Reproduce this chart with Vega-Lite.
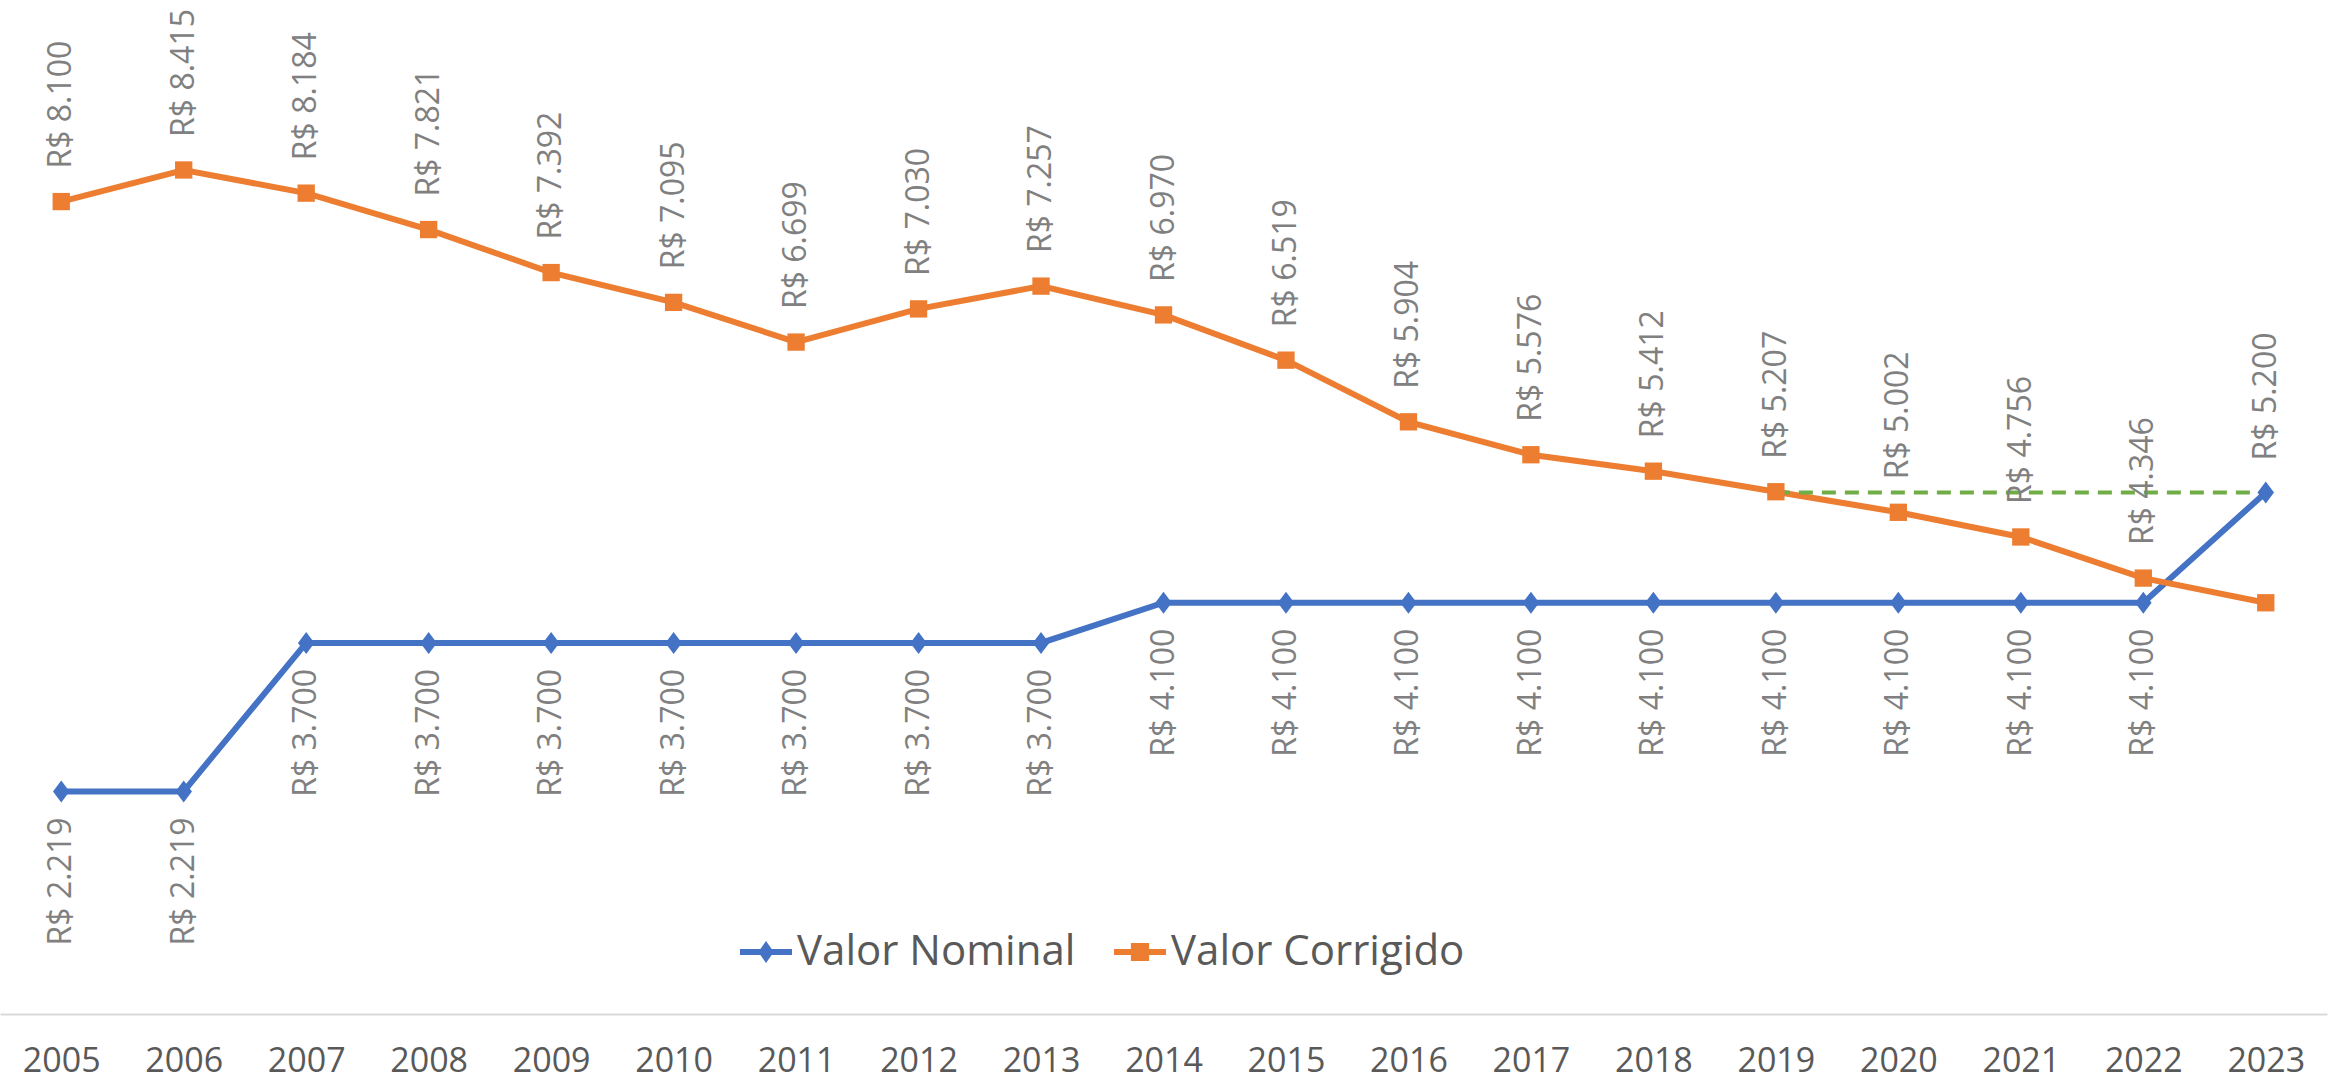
{
  "$schema": "https://vega.github.io/schema/vega-lite/v6.json",
  "width": 2327,
  "height": 1003,
  "autosize": "none",
  "padding": {"left": 0, "top": 11, "right": 9, "bottom": 67},
  "config": {
    "view": {"stroke": null},
    "font": "Open Sans",
    "locale": {"number": {"decimal": ",", "thousands": ".", "grouping": [3], "currency": ["R$ ", ""]}}
  },
  "datasets": {
    "valores": [
      {"ano": 2005, "serie": "Valor Nominal", "valor": 2219},
      {"ano": 2006, "serie": "Valor Nominal", "valor": 2219},
      {"ano": 2007, "serie": "Valor Nominal", "valor": 3700},
      {"ano": 2008, "serie": "Valor Nominal", "valor": 3700},
      {"ano": 2009, "serie": "Valor Nominal", "valor": 3700},
      {"ano": 2010, "serie": "Valor Nominal", "valor": 3700},
      {"ano": 2011, "serie": "Valor Nominal", "valor": 3700},
      {"ano": 2012, "serie": "Valor Nominal", "valor": 3700},
      {"ano": 2013, "serie": "Valor Nominal", "valor": 3700},
      {"ano": 2014, "serie": "Valor Nominal", "valor": 4100},
      {"ano": 2015, "serie": "Valor Nominal", "valor": 4100},
      {"ano": 2016, "serie": "Valor Nominal", "valor": 4100},
      {"ano": 2017, "serie": "Valor Nominal", "valor": 4100},
      {"ano": 2018, "serie": "Valor Nominal", "valor": 4100},
      {"ano": 2019, "serie": "Valor Nominal", "valor": 4100},
      {"ano": 2020, "serie": "Valor Nominal", "valor": 4100},
      {"ano": 2021, "serie": "Valor Nominal", "valor": 4100},
      {"ano": 2022, "serie": "Valor Nominal", "valor": 4100},
      {"ano": 2023, "serie": "Valor Nominal", "valor": 5200},
      {"ano": 2005, "serie": "Valor Corrigido", "valor": 8100},
      {"ano": 2006, "serie": "Valor Corrigido", "valor": 8415},
      {"ano": 2007, "serie": "Valor Corrigido", "valor": 8184},
      {"ano": 2008, "serie": "Valor Corrigido", "valor": 7821},
      {"ano": 2009, "serie": "Valor Corrigido", "valor": 7392},
      {"ano": 2010, "serie": "Valor Corrigido", "valor": 7095},
      {"ano": 2011, "serie": "Valor Corrigido", "valor": 6699},
      {"ano": 2012, "serie": "Valor Corrigido", "valor": 7030},
      {"ano": 2013, "serie": "Valor Corrigido", "valor": 7257},
      {"ano": 2014, "serie": "Valor Corrigido", "valor": 6970},
      {"ano": 2015, "serie": "Valor Corrigido", "valor": 6519},
      {"ano": 2016, "serie": "Valor Corrigido", "valor": 5904},
      {"ano": 2017, "serie": "Valor Corrigido", "valor": 5576},
      {"ano": 2018, "serie": "Valor Corrigido", "valor": 5412},
      {"ano": 2019, "serie": "Valor Corrigido", "valor": 5207},
      {"ano": 2020, "serie": "Valor Corrigido", "valor": 5002},
      {"ano": 2021, "serie": "Valor Corrigido", "valor": 4756},
      {"ano": 2022, "serie": "Valor Corrigido", "valor": 4346},
      {"ano": 2023, "serie": "Valor Corrigido", "valor": 4100}
    ],
    "referencia": [
      {"ano": 2019, "valor": 5200},
      {"ano": 2023, "valor": 5200}
    ]
  },
  "data": {"name": "valores"},
  "encoding": {
    "x": {
      "field": "ano",
      "type": "ordinal",
      "scale": {"type": "point", "padding": 0.5},
      "axis": {
        "title": null,
        "labelAngle": 0,
        "ticks": false,
        "grid": false,
        "domainColor": "#d9d9d9",
        "domainWidth": 2,
        "labelFontSize": 34,
        "labelColor": "#595959",
        "labelFont": "Open Sans",
        "labelPadding": 30
      }
    },
    "y": {
      "field": "valor",
      "type": "quantitative",
      "scale": {"domain": [0, 10000]},
      "axis": null
    }
  },
  "layer": [
    {
      "transform": [{"filter": "datum.serie == 'Valor Nominal'"}],
      "mark": {"type": "line", "strokeWidth": 6, "color": "#4472c4"},
      "encoding": {}
    },
    {
      "transform": [{"filter": "datum.serie == 'Valor Corrigido'"}],
      "mark": {"type": "line", "strokeWidth": 6, "color": "#ed7d31"},
      "encoding": {}
    },
    {
      "data": {"name": "referencia"},
      "mark": {"type": "line", "color": "#70ad47", "strokeWidth": 4, "strokeDash": [14, 9]},
      "encoding": {}
    },
    {
      "transform": [{"filter": "datum.serie == 'Valor Nominal'"}],
      "mark": {"type": "point", "filled": true, "opacity": 1, "color": "#4472c4", "size": 484, "shape": "M0,-1L0.75,0L0,1L-0.75,0Z"},
      "encoding": {}
    },
    {
      "transform": [{"filter": "datum.serie == 'Valor Corrigido'"}],
      "mark": {"type": "point", "filled": true, "opacity": 1, "color": "#ed7d31", "size": 300, "shape": "square"},
      "encoding": {}
    },
    {
      "transform": [{"filter": "datum.ano < 0"}],
      "mark": {"type": "point", "filled": true, "opacity": 1},
      "encoding": {
        "fill": {
          "field": "serie",
          "type": "nominal",
          "scale": {"domain": ["Valor Nominal", "Valor Corrigido"], "range": ["#4472c4", "#ed7d31"]},
          "legend": {
            "orient": "none", "legendX": 740, "legendY": 915, "direction": "horizontal", "title": null,
            "labelFontSize": 42, "labelColor": "#595959", "labelFont": "Open Sans", "labelLimit": 0,
            "symbolSize": 2704, "symbolStrokeWidth": 0, "symbolOpacity": 1,
            "columnPadding": 38, "labelOffset": 5
          }
        },
        "shape": {
          "field": "serie",
          "type": "nominal",
          "scale": {
            "domain": ["Valor Nominal", "Valor Corrigido"],
            "range": [
              "M-1,-0.115L1,-0.115L1,0.115L-1,0.115Z M0,-0.42L0.3,0L0,0.42L-0.3,0Z",
              "M-1,-0.115L1,-0.115L1,0.115L-1,0.115Z M-0.35,-0.35L0.35,-0.35L0.35,0.35L-0.35,0.35Z"
            ]
          },
          "legend": {
            "orient": "none", "legendX": 740, "legendY": 915, "direction": "horizontal", "title": null,
            "labelFontSize": 42, "labelColor": "#595959", "labelFont": "Open Sans", "labelLimit": 0,
            "symbolSize": 2704, "symbolStrokeWidth": 0, "symbolOpacity": 1,
            "columnPadding": 38, "labelOffset": 5
          }
        }
      }
    },
    {
      "transform": [{"filter": "datum.serie == 'Valor Corrigido' && datum.ano < 2023"}],
      "mark": {"type": "text", "angle": 270, "align": "left", "baseline": "middle", "dx": 33, "fontSize": 32, "font": "Open Sans", "color": "#808080"},
      "encoding": {"text": {"field": "valor", "type": "quantitative", "format": "$,.0f"}}
    },
    {
      "transform": [{"filter": "datum.serie == 'Valor Nominal' && datum.ano < 2023"}],
      "mark": {"type": "text", "angle": 270, "align": "right", "baseline": "middle", "dx": -26, "fontSize": 32, "font": "Open Sans", "color": "#808080"},
      "encoding": {"text": {"field": "valor", "type": "quantitative", "format": "$,.0f"}}
    },
    {
      "transform": [{"filter": "datum.serie == 'Valor Nominal' && datum.ano == 2023"}],
      "mark": {"type": "text", "angle": 270, "align": "left", "baseline": "middle", "dx": 32, "fontSize": 32, "font": "Open Sans", "color": "#808080"},
      "encoding": {"text": {"field": "valor", "type": "quantitative", "format": "$,.0f"}}
    }
  ]
}
